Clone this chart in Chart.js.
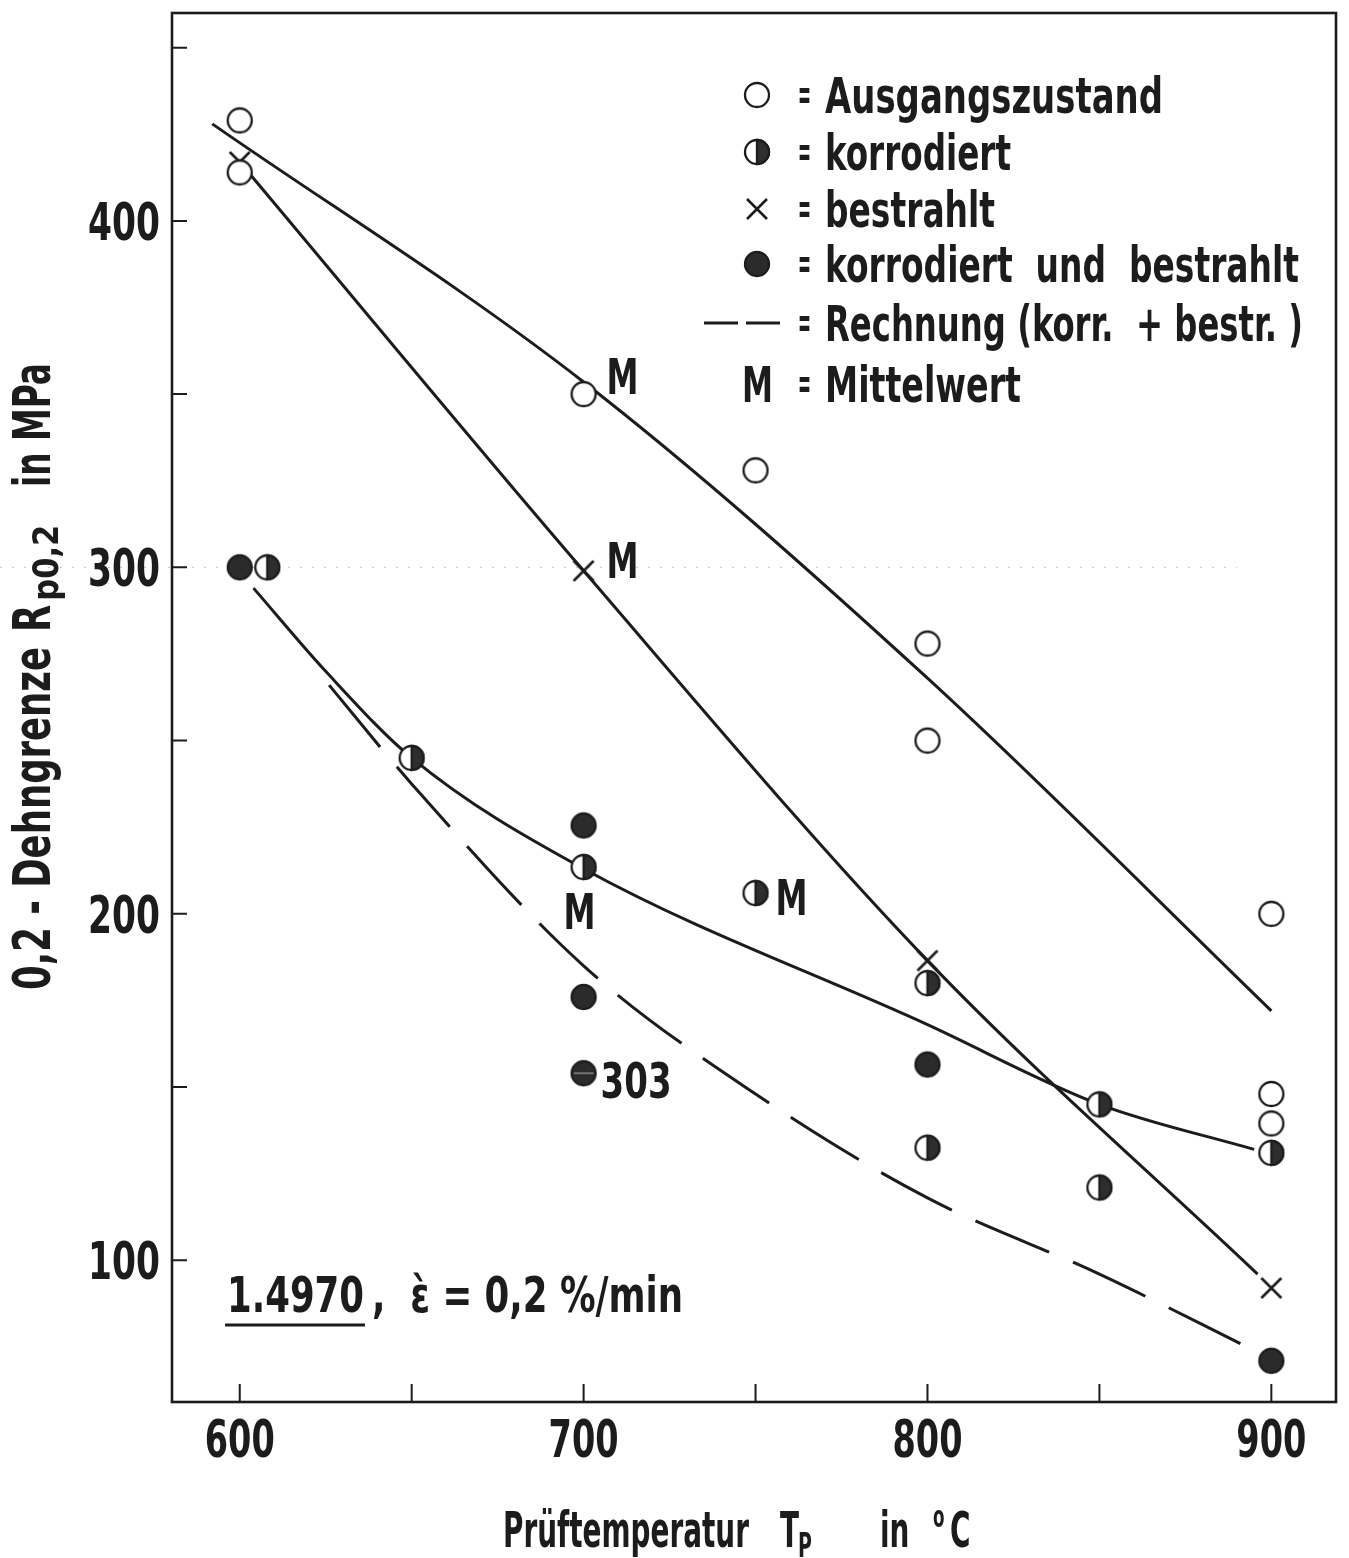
<!DOCTYPE html>
<html>
<head>
<meta charset="utf-8">
<title>0,2-Dehngrenze 1.4970</title>
<script src="https://cdn.jsdelivr.net/npm/chart.js@4.4.1/dist/chart.umd.min.js"></script>
<style>
  html, body { margin: 0; padding: 0; background: #fff; }
  #wrap { width: 1349px; height: 1558px; }
</style>
</head>
<body>
<div id="wrap"><canvas id="chart" width="1349" height="1558"></canvas></div>
<script>
const FONT = '"Liberation Sans Narrow", "DejaVu Sans Condensed", "Liberation Sans", sans-serif';
const INK = '#1c1c1c';

// measured values, temperature in °C, Rp0,2 in MPa
const ausgangX = [600, 600, 700, 750, 800, 800, 900, 900, 900];
const ausgangY = [429, 414, 350, 328, 278, 250, 200, 148, 139.5];
const korrX = [608, 650, 700, 750, 800, 800, 850, 850, 900];
const korrY = [300, 245, 213.5, 206, 180, 132.5, 145, 121, 131];
const bestrX = [600, 700, 800, 900];
const bestrY = [417, 299, 186.5, 92];
const kbX = [600, 700, 700, 800, 900];
const kbY = [300, 225.5, 176, 156.5, 71];
const k303X = [700];
const k303Y = [154];

// drawn curves
const fitAusgangX = [592, 700, 800, 900];
const fitAusgangY = [428, 353.5, 268, 172];
const fitBestrX = [600, 700, 800, 896];
const fitBestrY = [417, 299, 186.5, 96];
const fitKorrX = [604, 625, 650, 700, 800, 850, 895];
const fitKorrY = [294, 270, 245, 213, 168, 145, 132];
const rechnungX = [626, 650, 700, 750, 800, 850, 895];
const rechnungY = [266, 237.5, 185, 148, 118, 96, 74];

// axis ticks
const xTicks = [600, 700, 800, 900];
const xMinor = [600, 650, 700, 750, 800, 850, 900];
const yTicks = [100, 200, 300, 400];
const yMinor = [100, 150, 200, 250, 300, 350, 400, 450];

const pts = (xs, ys) => xs.map((x, i) => ({ x: x, y: ys[i] }));

function makeMarker(kind) {
    const s = 32;
    const c = document.createElement('canvas');
    c.width = s; c.height = s;
    const g = c.getContext('2d');
    const cx = s / 2, cy = s / 2, r = 12;
    g.strokeStyle = INK;
    g.fillStyle = INK;
    g.lineWidth = 2.3;
    if (kind === 'cross') {
        g.lineWidth = 2.6;
        g.beginPath();
        g.moveTo(cx - 10, cy - 10); g.lineTo(cx + 10, cy + 10);
        g.moveTo(cx + 10, cy - 10); g.lineTo(cx - 10, cy + 10);
        g.stroke();
        return c;
    }
    g.beginPath();
    g.arc(cx, cy, r, 0, Math.PI * 2);
    g.fillStyle = kind === 'full' || kind === 'k303' ? '#2b2b2b' : '#fff';
    g.fill();
    g.stroke();
    if (kind === 'half') {
        g.fillStyle = '#2e2e2e';
        g.beginPath();
        g.arc(cx, cy, r, -Math.PI / 2, Math.PI / 2);
        g.closePath();
        g.fill();
        g.stroke();
    }
    if (kind === 'k303') {
        g.strokeStyle = '#8a8a8a';
        g.lineWidth = 1.5;
        g.beginPath();
        g.moveTo(cx - r + 2, cy); g.lineTo(cx + r - 2, cy);
        g.stroke();
    }
    return c;
}

const markers = {
    open: makeMarker('open'),
    half: makeMarker('half'),
    cross: makeMarker('cross'),
    full: makeMarker('full'),
    k303: makeMarker('k303')
};

// draw text squeezed to a target width (the print uses a narrow grotesque)
function fitText(ctx, text, x, y, w, align) {
    const m = ctx.measureText(text).width;
    const k = w / m;
    ctx.save();
    ctx.translate(x, y);
    ctx.scale(k, 1);
    let x0 = 0;
    if (align === 'center') x0 = -m / 2;
    if (align === 'right') x0 = -m;
    ctx.fillText(text, x0, 0);
    ctx.restore();
}

// same squeeze for every piece of a title, returns the drawn width
function squeezed(ctx, text, x, y, k) {
    ctx.save();
    ctx.translate(x, y);
    ctx.scale(k, 1);
    ctx.fillText(text, 0, 0);
    ctx.restore();
    return ctx.measureText(text).width * k;
}

const legendRows = [
    { sym: 'open', text: 'Ausgangszustand', base: 113, w: 338 },
    { sym: 'half', text: 'korrodiert', base: 170, w: 186 },
    { sym: 'cross', text: 'bestrahlt', base: 227, w: 170 },
    { sym: 'full', text: 'korrodiert  und  bestrahlt', base: 282, w: 474 },
    { sym: 'dash', text: 'Rechnung (korr.  + bestr. )', base: 341, w: 478 },
    { sym: 'M', text: 'Mittelwert', base: 402, w: 196 }
];

const notes = [
    { text: 'M', x: 700, y: 350, dx: 23, dy: 0, w: 32 },
    { text: 'M', x: 700, y: 299, dx: 23, dy: 7, w: 32 },
    { text: 'M', x: 750, y: 206, dx: 20, dy: 22, w: 32 },
    { text: 'M', x: 700, y: 213.5, dx: -20, dy: 62, w: 32 },
    { text: '303', x: 700, y: 154, dx: 17, dy: 25, w: 71 }
];

const decor = {
    id: 'decor',
    beforeDatasetsDraw(chart) {
        const { ctx, scales: { x, y } } = chart;
        const yy = y.getPixelForValue(300);
        ctx.save();
        ctx.strokeStyle = '#c4c4c4';
        ctx.lineWidth = 1;
        ctx.setLineDash([2, 10]);
        ctx.beginPath();
        ctx.moveTo(0, yy);
        ctx.lineTo(x.getPixelForValue(890), yy);
        ctx.stroke();
        ctx.restore();
    },
    afterDraw(chart) {
        const { ctx, chartArea: a, scales: { x, y } } = chart;
        ctx.save();
        ctx.strokeStyle = INK;
        ctx.fillStyle = INK;
        ctx.lineCap = 'butt';

        // frame
        ctx.lineWidth = 2.6;
        ctx.strokeRect(a.left, a.top, a.right - a.left, a.bottom - a.top);

        // inward ticks
        ctx.lineWidth = 2;
        ctx.beginPath();
        xMinor.forEach(v => {
            const px = x.getPixelForValue(v);
            ctx.moveTo(px, a.bottom); ctx.lineTo(px, a.bottom - 18);
        });
        yMinor.forEach(v => {
            const py = y.getPixelForValue(v);
            ctx.moveTo(a.left, py); ctx.lineTo(a.left + 15, py);
        });
        ctx.stroke();

        // tick labels from the scales' own ticks
        ctx.textBaseline = 'alphabetic';
        ctx.font = 'bold 52px ' + FONT;
        x.ticks.forEach(t => {
            fitText(ctx, String(t.value), x.getPixelForValue(t.value), a.bottom + 55, 70, 'center');
        });
        y.ticks.forEach(t => {
            fitText(ctx, String(t.value), a.left - 12, y.getPixelForValue(t.value) + 19, 72, 'right');
        });

        // x title
        ctx.font = 'bold 50px ' + FONT;
        const kx = 246 / ctx.measureText('Prüftemperatur').width;
        squeezed(ctx, 'Prüftemperatur', 503, 1547, kx);
        const tw = squeezed(ctx, 'T', 780, 1547, kx);
        squeezed(ctx, 'in', 880, 1547, kx);
        squeezed(ctx, 'C', 950, 1547, kx);
        ctx.font = 'bold 34px ' + FONT;
        squeezed(ctx, 'P', 780 + tw - 1, 1557, kx);
        ctx.font = 'bold 30px ' + FONT;
        squeezed(ctx, 'o', 933, 1527, kx);

        // y title, rotated
        ctx.save();
        ctx.translate(50, 990);
        ctx.rotate(-Math.PI / 2);
        ctx.font = 'bold 52px ' + FONT;
        const ky = 343 / ctx.measureText('0,2 - Dehngrenze').width;
        squeezed(ctx, '0,2 - Dehngrenze', 0, 0, ky);
        const rw = squeezed(ctx, 'R', 358, 0, ky);
        fitText(ctx, 'in MPa', 503, 0, 124);
        ctx.font = 'bold 36px ' + FONT;
        fitText(ctx, 'p0,2', 358 + rw + 4, 8, 76);
        ctx.restore();

        // legend
        const symX = 757;
        legendRows.forEach(row => {
            const cy = row.base - 18;
            if (row.sym === 'dash') {
                ctx.lineWidth = 3;
                ctx.beginPath();
                ctx.moveTo(704, cy); ctx.lineTo(738, cy);
                ctx.moveTo(746, cy); ctx.lineTo(780, cy);
                ctx.stroke();
            } else if (row.sym === 'M') {
                ctx.font = 'bold 50px ' + FONT;
                fitText(ctx, 'M', 742, row.base, 31);
            } else {
                const img = markers[row.sym];
                ctx.drawImage(img, symX - img.width / 2, cy - img.height / 2);
            }
            ctx.font = 'bold 44px ' + FONT;
            fitText(ctx, '=', 798, row.base - 4, 13);
            ctx.font = 'bold 50px ' + FONT;
            fitText(ctx, row.text, 825, row.base, row.w);
        });

        // point notes
        ctx.font = 'bold 50px ' + FONT;
        notes.forEach(n => {
            fitText(ctx, n.text, x.getPixelForValue(n.x) + n.dx, y.getPixelForValue(n.y) + n.dy, n.w);
        });

        // material / strain rate
        fitText(ctx, '1.4970', 227, 1312, 137);
        fitText(ctx, ',  ὲ = 0,2 %/min', 372, 1312, 311);
        ctx.lineWidth = 3;
        ctx.beginPath();
        ctx.moveTo(225, 1325); ctx.lineTo(365, 1325);
        ctx.stroke();

        ctx.restore();
    }
};

const markerSet = (label, xs, ys, style) => ({
    label: label,
    data: pts(xs, ys),
    showLine: false,
    pointStyle: style,
    pointRadius: 12,
    order: 1
});

const curve = (label, xs, ys, dash) => ({
    label: label,
    data: pts(xs, ys),
    showLine: true,
    pointRadius: 0,
    borderWidth: 3,
    borderColor: INK,
    borderDash: dash || [],
    cubicInterpolationMode: 'monotone',
    order: 2
});

Chart.defaults.font.family = FONT;
Chart.defaults.color = INK;

new Chart(document.getElementById('chart'), {
    type: 'scatter',
    data: {
        datasets: [
            markerSet('Ausgangszustand', ausgangX, ausgangY, markers.open),
            markerSet('korrodiert', korrX, korrY, markers.half),
            markerSet('bestrahlt', bestrX, bestrY, markers.cross),
            markerSet('korrodiert und bestrahlt', kbX, kbY, markers.full),
            markerSet('303', k303X, k303Y, markers.k303),
            curve('Ausgangszustand (Kurve)', fitAusgangX, fitAusgangY),
            curve('bestrahlt (Kurve)', fitBestrX, fitBestrY),
            curve('korrodiert (Kurve)', fitKorrX, fitKorrY),
            curve('Rechnung (korr. + bestr.)', rechnungX, rechnungY, [80, 26])
        ]
    },
    options: {
        responsive: false,
        animation: false,
        layout: { padding: { top: 10, right: 9, left: 0, bottom: 0 } },
        plugins: {
            legend: { display: false },
            tooltip: { enabled: false }
        },
        scales: {
            x: {
                type: 'linear',
                min: 580.3,
                max: 918.8,
                grid: { display: false, drawTicks: false },
                border: { display: false },
                ticks: { display: false },
                afterBuildTicks: s => { s.ticks = xTicks.map(v => ({ value: v })); },
                afterFit: s => { s.height = 156; s.paddingLeft = 0; s.paddingRight = 0; }
            },
            y: {
                type: 'linear',
                min: 59.1,
                max: 460,
                grid: { display: false, drawTicks: false },
                border: { display: false },
                ticks: { display: false },
                afterBuildTicks: s => { s.ticks = yTicks.map(v => ({ value: v })); },
                afterFit: s => { s.width = 172; s.paddingTop = 0; s.paddingBottom = 0; }
            }
        }
    },
    plugins: [decor]
});
</script>
</body>
</html>
